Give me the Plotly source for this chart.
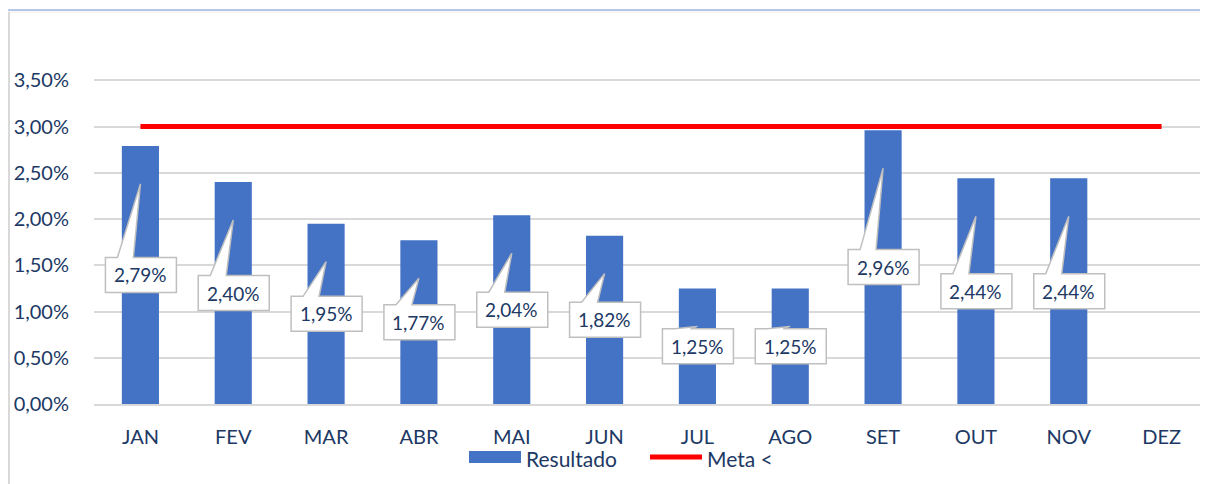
import plotly.graph_objects as go

months = ["JAN", "FEV", "MAR", "ABR", "MAI", "JUN", "JUL", "AGO", "SET", "OUT", "NOV", "DEZ"]
resultado = [0.0279, 0.0240, 0.0195, 0.0177, 0.0204, 0.0182, 0.0125, 0.0125, 0.0296, 0.0244, 0.0244, None]
meta = [0.03] * 12
y_ticks = [0, 0.005, 0.01, 0.015, 0.02, 0.025, 0.03, 0.035]
y_range = [0, 0.04]
series_names = ["Resultado", "Meta <"]

# the page body has an 8px default margin, so the figure is drawn 8px smaller
OFF = 8
W, H = 1208 - OFF, 484 - OFF
M_L, M_R, M_T, M_B = 94 - OFF, 0, 34 - OFF, 80
plot_w = W - M_L - M_R
plot_h = H - M_T - M_B
px = (y_range[1] - y_range[0]) / plot_h  # data units per pixel

TXT = "#203864"
FONT = "Lato"
BLUE = "#4472c4"
RED = "#ff0000"


def fx(p):  # window pixel x -> paper
    return (p - OFF - M_L) / plot_w


def fy(p):  # window pixel y -> paper
    return (H - M_B - (p - OFF)) / plot_h


fig = go.Figure()
fig.add_trace(go.Bar(x=months, y=resultado, name=series_names[0], marker_color=BLUE,
                     width=0.4, marker_line_width=0, showlegend=False))
fig.add_trace(go.Scatter(x=months, y=meta, name=series_names[1], mode="lines",
                         line=dict(color=RED, width=5), showlegend=False))

shapes = []
annotations = []
for i, (m, v) in enumerate(zip(months, resultado)):
    if v is None:
        continue
    cy = v / 2
    top = cy + 17.5 * px
    bot = cy - 17.5 * px
    tip = v - 38 * px
    path = (f"M -35,{bot} L 36,{bot} L 36,{top} L -7,{top} L 0,{tip} "
            f"L -23,{top} L -35,{top} Z")
    shapes.append(dict(type="path", xref="x", yref="y", xsizemode="pixel", xanchor=i,
                       path=path, fillcolor="white", line=dict(color="#bfbfbf", width=1.5),
                       layer="above"))
    annotations.append(dict(x=m, y=cy, xref="x", yref="y", showarrow=False,
                            text=f"{v*100:.2f}".replace(".", ",") + "%",
                            font=dict(family=FONT, size=19, color=TXT)))

# outer frame
shapes.append(dict(type="line", xref="paper", yref="paper",
                   x0=fx(OFF), x1=fx(1208), y0=fy(10), y1=fy(10),
                   line=dict(color="#b4c7e7", width=2), layer="below"))
shapes.append(dict(type="line", xref="paper", yref="paper",
                   x0=fx(OFF), x1=fx(1208), y0=fy(12), y1=fy(12),
                   line=dict(color="#ececec", width=1), layer="below"))
shapes.append(dict(type="line", xref="paper", yref="paper",
                   x0=fx(9), x1=fx(9), y0=fy(484), y1=fy(12),
                   line=dict(color="#d9d9d9", width=2), layer="below"))

# legend (drawn manually to match the wide swatches)
shapes.append(dict(type="rect", xref="paper", yref="paper",
                   x0=fx(469), x1=fx(521), y0=fy(463), y1=fy(451),
                   fillcolor=BLUE, line=dict(width=0)))
shapes.append(dict(type="line", xref="paper", yref="paper",
                   x0=fx(650), x1=fx(702), y0=fy(457), y1=fy(457),
                   line=dict(color=RED, width=5)))
annotations.append(dict(x=fx(524), y=fy(458), xref="paper", yref="paper", showarrow=False,
                        xanchor="left", yanchor="middle", text=series_names[0],
                        font=dict(family=FONT, size=21, color=TXT)))
annotations.append(dict(x=fx(705), y=fy(458), xref="paper", yref="paper", showarrow=False,
                        xanchor="left", yanchor="middle", text=series_names[1],
                        font=dict(family=FONT, size=21, color=TXT)))

fig.update_layout(
    width=W, height=H,
    margin=dict(l=M_L, r=M_R, t=M_T, b=M_B, autoexpand=False),
    plot_bgcolor="white", paper_bgcolor="white",
    separators=",.",
    font=dict(family=FONT, size=19, color=TXT),
    shapes=shapes, annotations=annotations,
    showlegend=False,
    bargap=0.6,
)
fig.update_yaxes(range=y_range, tickvals=y_ticks, tickformat=".2%", showgrid=True,
                 gridcolor="#d9d9d9", gridwidth=1.5, zeroline=False, showline=False,
                 ticks="outside", ticklen=20, tickcolor="rgba(0,0,0,0)", automargin=False,
                 tickfont=dict(family=FONT, size=20, color=TXT))
fig.update_xaxes(showgrid=False, showline=True, linecolor="#d9d9d9", linewidth=1.5,
                 ticks="outside", ticklen=14, tickcolor="rgba(0,0,0,0)", automargin=False,
                 tickfont=dict(family=FONT, size=20, color=TXT))

fig.write_html("out.html")
